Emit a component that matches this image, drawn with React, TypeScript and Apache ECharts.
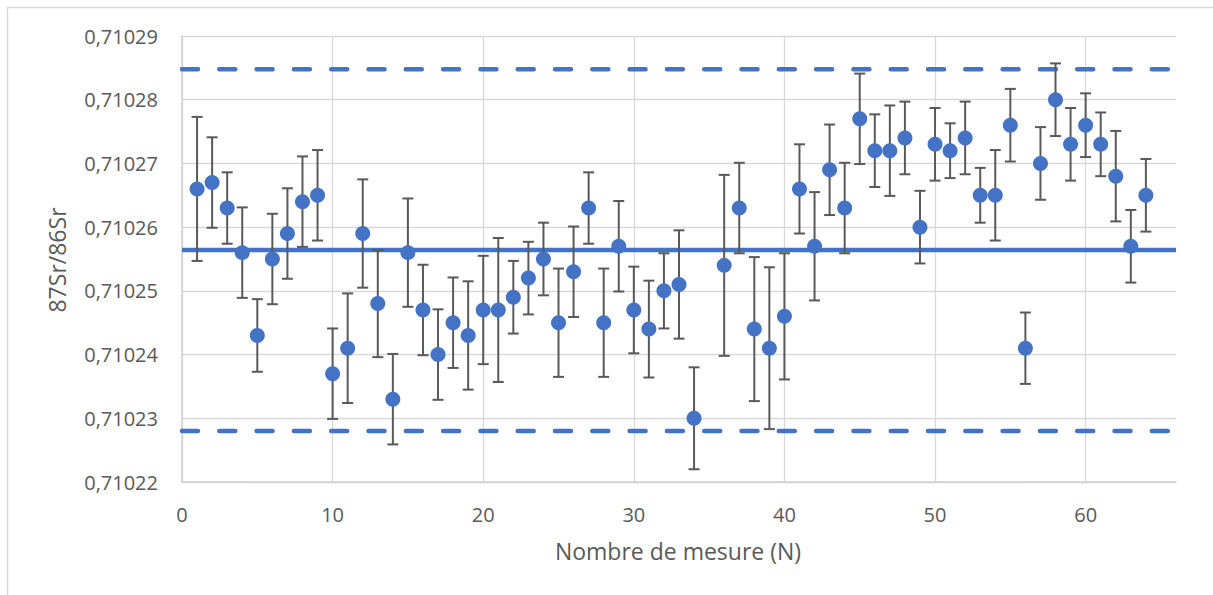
import React, { useEffect, useRef } from "react";
import * as echarts from "echarts";

// Measurement numbers (N = 35 is missing in the reference)
const measureN: number[] = [
  1, 2, 3, 4, 5, 6, 7, 8, 9, 10, 11, 12, 13, 14, 15, 16, 17, 18, 19, 20,
  21, 22, 23, 24, 25, 26, 27, 28, 29, 30, 31, 32, 33, 34,
  36, 37, 38, 39, 40, 41, 42, 43, 44, 45, 46, 47, 48, 49, 50,
  51, 52, 53, 54, 55, 56, 57, 58, 59, 60, 61, 62, 63, 64,
];

// 87Sr/86Sr ratios
const ratio: number[] = [
  0.710266, 0.710267, 0.710263, 0.710256, 0.710243, 0.710255, 0.710259, 0.710264, 0.710265, 0.710237,
  0.710241, 0.710259, 0.710248, 0.710233, 0.710256, 0.710247, 0.71024, 0.710245, 0.710243, 0.710247,
  0.710247, 0.710249, 0.710252, 0.710255, 0.710245, 0.710253, 0.710263, 0.710245, 0.710257, 0.710247,
  0.710244, 0.71025, 0.710251, 0.71023,
  0.710254, 0.710263, 0.710244, 0.710241, 0.710246, 0.710266, 0.710257, 0.710269, 0.710263, 0.710277,
  0.710272, 0.710272, 0.710274, 0.71026, 0.710273, 0.710272, 0.710274, 0.710265, 0.710265, 0.710276,
  0.710241, 0.71027, 0.71028, 0.710273, 0.710276, 0.710273, 0.710268, 0.710257, 0.710265,
];

// Error (± half-length of the error bar)
const errorBar: number[] = [
  0.0000113, 0.0000071, 0.0000056, 0.0000071, 0.0000057, 0.0000071, 0.0000071, 0.0000071, 0.0000071, 0.0000071,
  0.0000086, 0.0000085, 0.0000084, 0.0000071, 0.0000085, 0.0000071, 0.0000071, 0.0000071, 0.0000085, 0.0000085,
  0.0000113, 0.0000057, 0.0000057, 0.0000057, 0.0000085, 0.0000071, 0.0000056, 0.0000085, 0.0000071, 0.0000068,
  0.0000076, 0.0000059, 0.0000085, 0.000008,
  0.0000142, 0.0000071, 0.0000113, 0.0000127, 0.0000099, 0.000007, 0.0000085, 0.0000071, 0.0000071, 0.0000071,
  0.0000057, 0.0000071, 0.0000057, 0.0000057, 0.0000057, 0.0000043, 0.0000057, 0.0000043, 0.0000071, 0.0000057,
  0.0000056, 0.0000057, 0.0000057, 0.0000057, 0.000005, 0.000005, 0.0000071, 0.0000057, 0.0000057,
];

const meanValue = 0.7102564;
const upperLimit = 0.7102848;
const lowerLimit = 0.710228;

const xMin = 0;
const xMax = 66;
const xInterval = 10;
const yMin = 0.71022;
const yMax = 0.71029;
const yInterval = 0.00001;

const xTitle = "Nombre de mesure (N)";
const yTitle = "87Sr/86Sr";

const FONT = "'Open Sans', sans-serif";
const TEXT = "#595959";
const BLUE = "#4472C4";

export default function App() {
  const ref = useRef<HTMLDivElement>(null);

  useEffect(() => {
    if (!ref.current) return;
    const chart = echarts.init(ref.current, undefined, { renderer: "svg" });

    const points = measureN.map((n, i) => [n, ratio[i]]);
    const bars = measureN.map((n, i) => [n, ratio[i], errorBar[i]]);

    chart.setOption({
      animation: false,
      backgroundColor: "#ffffff",
      textStyle: { fontFamily: FONT },
      grid: { left: 182, top: 36, right: 37, bottom: 113, containLabel: false },
      graphic: [
        {
          type: "rect",
          shape: { x: 7.5, y: 7.5, width: 1230, height: 620 },
          style: { fill: "none", stroke: "#d9d9d9", lineWidth: 1.5 },
          silent: true,
        },
        {
          type: "text",
          x: 57,
          y: 260,
          rotation: Math.PI / 2,
          style: {
            text: yTitle,
            fill: TEXT,
            font: `23px ${FONT}`,
            textAlign: "center",
            textVerticalAlign: "middle",
          },
        },
        {
          type: "text",
          x: 678,
          y: 551,
          style: {
            text: xTitle,
            fill: TEXT,
            font: `23px ${FONT}`,
            textAlign: "center",
            textVerticalAlign: "middle",
          },
        },
      ],
      xAxis: {
        type: "value",
        min: xMin,
        max: xMax,
        interval: xInterval,
        axisLine: { show: true, lineStyle: { color: "#d0d0d0", width: 1.5 } },
        axisTick: { show: false },
        axisLabel: {
          color: TEXT,
          fontSize: 20,
          fontFamily: FONT,
          margin: 22,
          showMaxLabel: false,
          formatter: (v: number) => (v % 10 === 0 ? String(v) : ""),
        },
        splitLine: { show: true, showMaxLine: false, lineStyle: { color: "#d9d9d9", width: 1.3 } },
      },
      yAxis: {
        type: "value",
        min: yMin,
        max: yMax,
        interval: yInterval,
        axisLine: { show: true, lineStyle: { color: "#d0d0d0", width: 1.5 } },
        axisTick: { show: false },
        axisLabel: {
          color: TEXT,
          fontSize: 20,
          fontFamily: FONT,
          margin: 24,
          formatter: (v: number) => v.toFixed(5).replace(".", ","),
        },
        splitLine: { show: true, lineStyle: { color: "#d9d9d9", width: 1.3 } },
      },
      series: [
        {
          type: "line",
          data: [[xMin, upperLimit], [xMax, upperLimit]],
          symbol: "none",
          silent: true,
          z: 1,
          lineStyle: { color: BLUE, width: 4.5, type: [16, 21.3], cap: "round" },
        },
        {
          type: "line",
          data: [[xMin, lowerLimit], [xMax, lowerLimit]],
          symbol: "none",
          silent: true,
          z: 1,
          lineStyle: { color: BLUE, width: 4.5, type: [16, 21.3], cap: "round" },
        },
        {
          type: "line",
          data: [[xMin, meanValue], [xMax, meanValue]],
          symbol: "none",
          silent: true,
          z: 1,
          lineStyle: { color: BLUE, width: 4.5 },
        },
        {
          type: "custom",
          data: bars,
          z: 2,
          encode: { x: 0, y: 1 },
          renderItem: (_params: any, api: any) => {
            const x = api.value(0);
            const y = api.value(1);
            const e = api.value(2);
            const top = api.coord([x, y + e]);
            const bot = api.coord([x, y - e]);
            const hw = 5.5;
            const style = { stroke: "#595959", lineWidth: 2 };
            return {
              type: "group",
              children: [
                { type: "line", shape: { x1: top[0], y1: top[1], x2: bot[0], y2: bot[1] }, style },
                { type: "line", shape: { x1: top[0] - hw, y1: top[1], x2: top[0] + hw, y2: top[1] }, style },
                { type: "line", shape: { x1: bot[0] - hw, y1: bot[1], x2: bot[0] + hw, y2: bot[1] }, style },
              ],
            };
          },
        },
        {
          type: "scatter",
          data: points,
          symbol: "circle",
          symbolSize: 15,
          z: 3,
          itemStyle: { color: BLUE, opacity: 1 },
        },
      ],
    });

    return () => chart.dispose();
  }, []);

  return (
    <div
      ref={ref}
      style={{ position: "absolute", left: 0, top: 0, width: 1213, height: 595, background: "#fff" }}
    />
  );
}
